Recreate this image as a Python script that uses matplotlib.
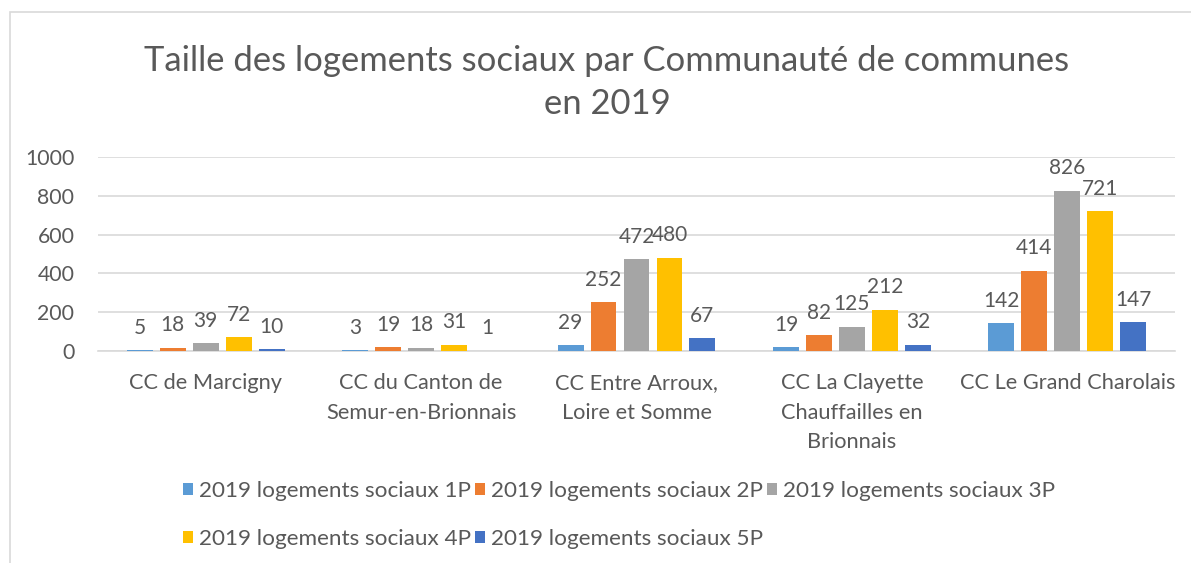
import matplotlib.pyplot as plt
import numpy as np
from matplotlib.patches import Rectangle

plt.rcParams['font.family'] = ['Lato', 'DejaVu Sans']

# Data
categories = ["CC de Marcigny",
              "CC du Canton de\nSemur-en-Brionnais",
              "CC Entre Arroux,\nLoire et Somme",
              "CC La Clayette\nChauffailles en\nBrionnais",
              "CC Le Grand Charolais"]
series_names = ["2019 logements sociaux 1P", "2019 logements sociaux 2P",
                "2019 logements sociaux 3P", "2019 logements sociaux 4P",
                "2019 logements sociaux 5P"]
p1 = [5, 3, 29, 19, 142]
p2 = [18, 19, 252, 82, 414]
p3 = [39, 18, 472, 125, 826]
p4 = [72, 31, 480, 212, 721]
p5 = [10, 1, 67, 32, 147]
colors = ['#5B9BD5', '#ED7D31', '#A5A5A5', '#FFC000', '#4472C4']
yticks = [0, 200, 400, 600, 800, 1000]

TXT = '#595959'
GRID = '#D9D9D9'

fig = plt.figure(figsize=(11.91, 5.63), dpi=100)
ax = fig.add_axes([98 / 1191, 1 - 351 / 563, (1175 - 98) / 1191, (351 - 157) / 563])

# chart frame (cropped on right and bottom)
fig.patches.append(Rectangle((10 / 1191, -0.1), 1.2, 1 - 12 / 563 + 0.1,
                             transform=fig.transFigure, fill=False,
                             edgecolor='#D9D9D9', linewidth=1.2))

x = np.arange(len(categories))
step = 0.153
width = 0.12
all_series = [p1, p2, p3, p4, p5]
handles = []
for i, vals in enumerate(all_series):
    pos = x + (i - 2) * step
    bars = ax.bar(pos, vals, width, color=colors[i], label=series_names[i], zorder=3)
    handles.append(bars)
    for xp, v in zip(pos, vals):
        ax.annotate(str(v), (xp, v), xytext=(0, 9), textcoords='offset points',
                    ha='center', va='bottom', fontsize=15, color=TXT)

ax.set_xlim(-0.5, len(categories) - 0.5)
ax.set_ylim(0, 1000)
ax.set_yticks(yticks)
ax.set_xticks(x)
ax.set_xticklabels(categories, fontsize=15.7, color=TXT, linespacing=1.6)
ax.tick_params(axis='y', labelsize=15.3, labelcolor=TXT, length=0, pad=17)
ax.tick_params(axis='x', length=0, pad=16)
ax.grid(axis='y', color=GRID, linewidth=1.2, zorder=0)
for s in ['top', 'right', 'left']:
    ax.spines[s].set_visible(False)
ax.spines['bottom'].set_color(GRID)
ax.spines['bottom'].set_linewidth(1.2)

fig.text(607 / 1191, 1 - 61 / 563, "Taille des logements sociaux par Communauté de communes",
         ha='center', va='center', fontsize=24.9, color=TXT)
fig.text(607 / 1191, 1 - 104 / 563, "en 2019",
         ha='center', va='center', fontsize=24.9, color=TXT)

# legend in row-major order: 1P 2P 3P / 4P 5P
order = [0, 3, 1, 4, 2]
leg = fig.legend([handles[k] for k in order], [series_names[k] for k in order],
                 ncol=3, loc='upper left', bbox_to_anchor=(183 / 1191, 1 - 481 / 563),
                 frameon=False, fontsize=16.2, labelcolor=TXT,
                 handlelength=0.45, handleheight=0.45, handletextpad=0.28,
                 columnspacing=0.15, labelspacing=1.25, borderaxespad=0, borderpad=0)

fig.savefig('out.png', dpi=100)
